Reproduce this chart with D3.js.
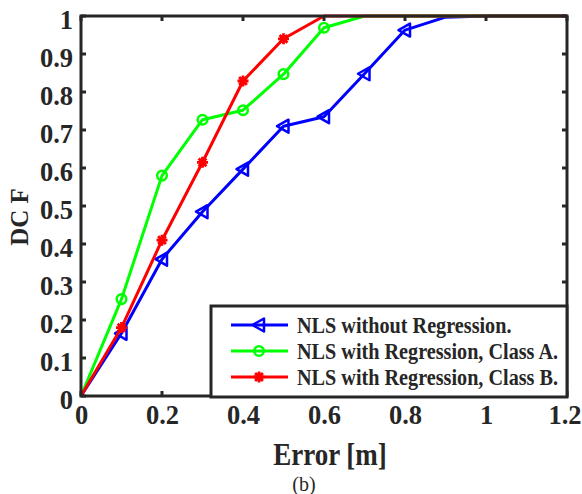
<!DOCTYPE html>
<html>
<head>
<meta charset="utf-8">
<script src="https://cdn.jsdelivr.net/npm/d3@7"></script>
<style>
    body { margin: 0; background: #fff; }
    text { font-family: "Liberation Serif", "Times New Roman", serif; fill: #262626; }
</style>
</head>
<body>
<script>
// data
const errors = [0, 0.1, 0.2, 0.3, 0.4, 0.5, 0.6, 0.7, 0.8, 0.9, 1.0, 1.1, 1.2];
const noRegression = [0, 0.165, 0.36, 0.485, 0.597, 0.71, 0.735, 0.848, 0.963, 0.997, 1, 1, 1];
const classA = [0, 0.255, 0.58, 0.727, 0.752, 0.847, 0.969, 1, 1, 1, 1, 1, 1];
const classB = [0, 0.18, 0.41, 0.615, 0.829, 0.94, 1, 1, 1, 1, 1, 1, 1];
const seriesNames = ["NLS without Regression.", "NLS with Regression, Class A.", "NLS with Regression, Class B."];
const xTicks = [0, 0.2, 0.4, 0.6, 0.8, 1, 1.2];
const yTicks = [0, 0.1, 0.2, 0.3, 0.4, 0.5, 0.6, 0.7, 0.8, 0.9, 1];

const W = 582, H = 494;
const margin = { top: 16, right: 15, bottom: 98, left: 81 };
const w = W - margin.left - margin.right,
    h = H - margin.top - margin.bottom;

const series = [
    { name: seriesNames[0], values: noRegression, color: "#0000ff", marker: "tri" },
    { name: seriesNames[1], values: classA, color: "#00ff00", marker: "circle" },
    { name: seriesNames[2], values: classB, color: "#ff0000", marker: "star" }
];

const x = d3.scaleLinear().domain([0, 1.2]).range([0, w]);
const y = d3.scaleLinear().domain([0, 1]).range([h, 0]);

const svg = d3.select("body").append("svg")
    .attr("width", W)
    .attr("height", H);

const g = svg.append("g")
    .attr("transform", "translate(" + margin.left + "," + margin.top + ")");

function drawMarker(sel, type, color) {
    if (type === "circle") {
        sel.append("circle").attr("r", 4.8)
            .attr("fill", "none").attr("stroke", color).attr("stroke-width", 2.5);
    } else if (type === "tri") {
        sel.append("path").attr("d", "M-6.5,0L5,-6.5L5,6.5Z")
            .attr("fill", "none").attr("stroke", color).attr("stroke-width", 2.5)
            .attr("stroke-linejoin", "round");
    } else {
        const r = 5.5;
        let d = "";
        for (let k = 0; k < 4; k++) {
            const a = k * Math.PI / 4;
            d += "M" + (-r * Math.cos(a)) + "," + (-r * Math.sin(a)) + "L" + (r * Math.cos(a)) + "," + (r * Math.sin(a));
        }
        sel.append("path").attr("d", d).attr("stroke", color).attr("stroke-width", 2.8);
    }
}

const line = d3.line()
    .x(function (d, i) { return x(errors[i]); })
    .y(function (d) { return y(d); });

series.forEach(function (s) {
    g.append("path")
        .datum(s.values)
        .attr("fill", "none")
        .attr("stroke", s.color)
        .attr("stroke-width", 3)
        .attr("stroke-linejoin", "round")
        .attr("d", line);

    s.values.forEach(function (v, i) {
        if (i === 0 || v >= 0.99) return;
        const m = g.append("g").attr("transform", "translate(" + x(errors[i]) + "," + y(v) + ")");
        drawMarker(m, s.marker, s.color);
    });
});

// axes box
const axisColor = "#262626";
const fmt = function (d) { return d === 0 || d === 1 ? d : d3.format(".1f")(d); };
const xAxis = g.append("g").attr("transform", "translate(0," + h + ")")
    .call(d3.axisBottom(x).tickValues(xTicks).tickSize(0).tickFormat(fmt));
const yAxis = g.append("g")
    .call(d3.axisLeft(y).tickValues(yTicks).tickSize(0).tickPadding(8).tickFormat(fmt));
[xAxis, yAxis].forEach(function (a) {
    a.select(".domain").remove();
    a.selectAll("text")
        .attr("font-family", "Liberation Serif")
        .attr("font-weight", "bold")
        .attr("font-size", 26.5)
        .attr("fill", axisColor);
});
xAxis.selectAll("text").attr("y", 28).attr("dy", 0);
// last label sits against the right edge, as in the figure
xAxis.selectAll(".tick").filter(function (d) { return d === 1.2; })
    .select("text").attr("text-anchor", "end").attr("x", 14);
yAxis.selectAll("text").attr("dy", "0.47em");

// inner ticks on all four sides
xTicks.forEach(function (t) {
    g.append("line").attr("x1", x(t)).attr("x2", x(t)).attr("y1", h).attr("y2", h - 5)
        .attr("stroke", axisColor).attr("stroke-width", 3);
    g.append("line").attr("x1", x(t)).attr("x2", x(t)).attr("y1", 0).attr("y2", 5)
        .attr("stroke", axisColor).attr("stroke-width", 3);
});
yTicks.forEach(function (t) {
    g.append("line").attr("x1", 0).attr("x2", 5).attr("y1", y(t)).attr("y2", y(t))
        .attr("stroke", axisColor).attr("stroke-width", 3);
    g.append("line").attr("x1", w).attr("x2", w - 5).attr("y1", y(t)).attr("y2", y(t))
        .attr("stroke", axisColor).attr("stroke-width", 3);
});
g.append("rect").attr("x", 0).attr("y", 0).attr("width", w).attr("height", h)
    .attr("fill", "none").attr("stroke", axisColor).attr("stroke-width", 3);

// axis titles
svg.append("text")
    .attr("transform", "translate(330,465) scale(1,1.2)")
    .attr("text-anchor", "middle")
    .attr("font-weight", "bold").attr("font-size", 27)
    .text("Error [m]");
svg.append("text")
    .attr("transform", "translate(28,217) rotate(-90)")
    .attr("text-anchor", "middle")
    .attr("font-weight", "bold").attr("font-size", 25)
    .text("DC F");
svg.append("text")
    .attr("x", 304).attr("y", 491)
    .attr("text-anchor", "middle")
    .attr("font-size", 20)
    .text("(b)");

// legend
const lg = svg.append("g").attr("transform", "translate(211,306)");
lg.append("rect").attr("width", 356).attr("height", 91)
    .attr("fill", "#fff").attr("stroke", axisColor).attr("stroke-width", 3);
series.forEach(function (s, i) {
    const row = lg.append("g").attr("transform", "translate(0," + (19 + i * 26) + ")");
    row.append("line").attr("x1", 20).attr("x2", 77).attr("y1", 0).attr("y2", 0)
        .attr("stroke", s.color).attr("stroke-width", 3);
    drawMarker(row.append("g").attr("transform", "translate(48,0)"), s.marker, s.color);
    row.append("text")
        .attr("transform", "translate(86,0) scale(1,1.12)")
        .attr("dy", "0.35em")
        .attr("font-weight", "bold").attr("font-size", 20.2)
        .text(s.name);
});
</script>
</body>
</html>
